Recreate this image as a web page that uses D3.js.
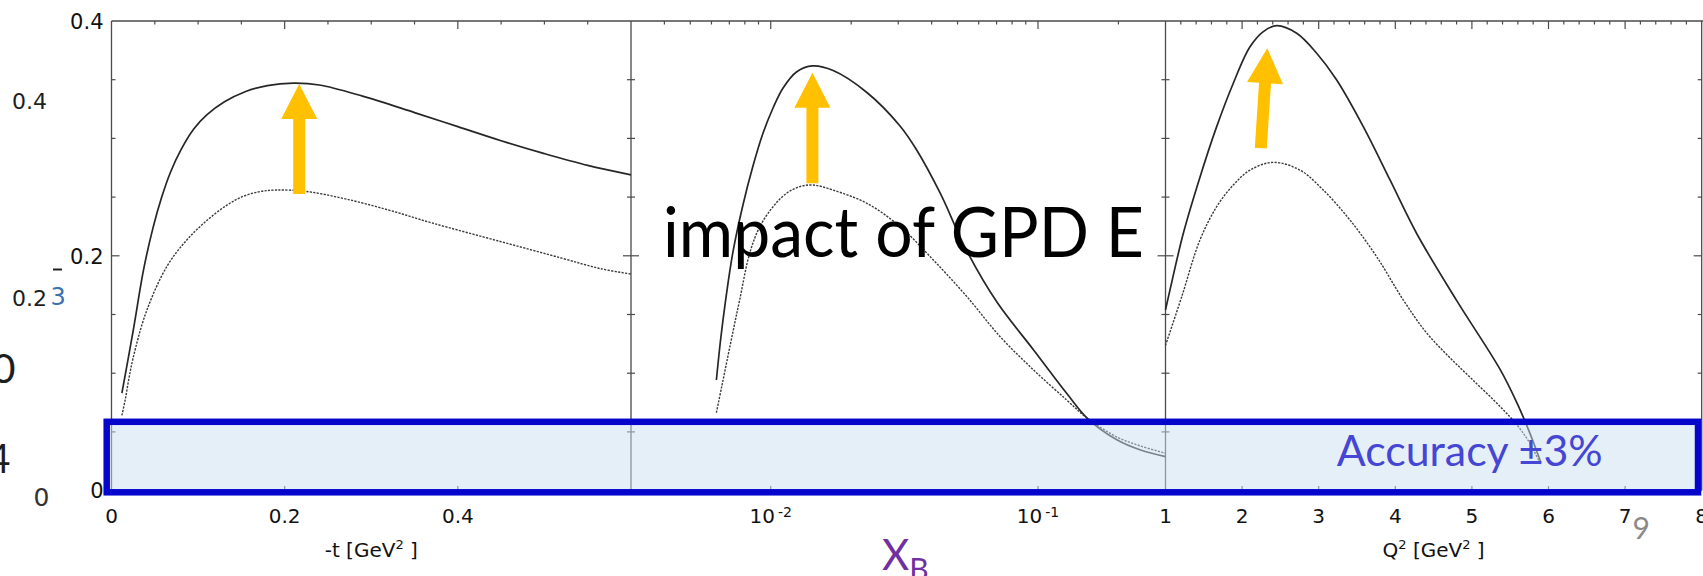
<!DOCTYPE html>
<html>
<head>
<meta charset="utf-8">
<script src="https://cdn.jsdelivr.net/npm/d3@7"></script>
<style>
  html, body { margin: 0; padding: 0; background: #fff; }
  svg { display: block; }
</style>
</head>
<body>
<svg id="chart" width="1703" height="576"></svg>
<script>
// ---------- data ----------
// shared vertical axis
const yTicks = [0, 0.2, 0.4];
const yTickLabels = ["0", "0.2", "0.4"];

// panel 1: dependence on -t
const tTicks = [0, 0.2, 0.4];
const tTickLabels = ["0", "0.2", "0.4"];
const tSolid = [[0.012,0.083],[0.025,0.136],[0.037,0.188],[0.048,0.224],[0.058,0.250],[0.068,0.271],
  [0.08,0.290],[0.095,0.308],[0.11,0.320],[0.13,0.331],[0.155,0.340],[0.18,0.345],[0.21,0.347],
  [0.24,0.3455],[0.29,0.336],[0.35,0.322],[0.40,0.310],[0.45,0.298],[0.50,0.287],[0.55,0.277],[0.60,0.269]];
const tDashed = [[0.012,0.064],[0.016,0.078],[0.02,0.095],[0.025,0.113],[0.04,0.152],[0.064,0.191],
  [0.087,0.2135],[0.11,0.230],[0.133,0.243],[0.15,0.250],[0.17,0.2545],[0.19,0.256],[0.225,0.2548],
  [0.27,0.2485],[0.32,0.239],[0.37,0.228],[0.45,0.212],[0.52,0.198],[0.565,0.189],[0.60,0.1845]];

// panel 2: dependence on x_B
const xbTicks = [0.01, 0.1];
const xbTickExponents = ["-2", "-1"];
const xbSolid = [[0.00626,0.0942],[0.00649,0.1283],[0.00678,0.1623],[0.00722,0.2032],[0.00787,0.2433],
  [0.00858,0.2765],[0.00936,0.3046],[0.0102,0.3259],[0.01112,0.3429],[0.01248,0.3566],[0.01434,0.3617],
  [0.01712,0.3578],[0.0229,0.3391],[0.03046,0.3106],[0.03517,0.2901],[0.04302,0.2535],[0.05418,0.2041],
  [0.07019,0.1606],[0.0963,0.1198],[0.128,0.0829],[0.153,0.0616],[0.198,0.0431],[0.242,0.0346],[0.3,0.0289]];
const xbDashed = [[0.00626,0.0664],[0.00655,0.0882],[0.0069,0.1134],[0.00727,0.1385],[0.00765,0.1623],
  [0.00834,0.2021],[0.0091,0.2248],[0.0102,0.2418],[0.01145,0.2532],[0.01284,0.2589],[0.0144,0.2603],
  [0.0171,0.256],[0.0229,0.2447],[0.0305,0.2248],[0.0406,0.1964],[0.0542,0.1652],[0.0722,0.1311],
  [0.0963,0.1027],[0.128,0.0772],[0.153,0.0616],[0.198,0.0455],[0.242,0.038],[0.3,0.0318]];

// panel 3: dependence on Q^2
const q2Ticks = [1, 2, 3, 4, 5, 6, 7, 8];
const q2Solid = [[1.0,0.154],[1.059,0.171],[1.232,0.219],[1.45,0.267],[1.668,0.310],[1.885,0.347],
  [2.103,0.378],[2.277,0.391],[2.452,0.396],[2.713,0.3895],[2.974,0.3725],[3.235,0.3497],[3.582,0.310],
  [3.931,0.2646],[4.279,0.219],[4.8,0.162],[5.37,0.103],[5.6,0.073],[5.75,0.050],[5.9,0.024]];
const q2Dashed = [[1.0,0.1237],[1.211,0.165],[1.45,0.2135],[1.668,0.2418],[1.885,0.2603],[2.103,0.273],
  [2.407,0.2796],[2.756,0.273],[3.06,0.256],[3.409,0.2304],[3.757,0.1992],[4.105,0.1623],[4.4,0.135],
  [4.7,0.114],[5.0,0.095],[5.37,0.0715],[5.6,0.055],[5.75,0.041],[5.9,0.022]];

// arrows marking the shift between the two curves: [x, yFrom, yTo] (last panel is tilted: [xFrom, yFrom, xTo, yTo])
const tArrow = [0.2168, 0.2526, 0.3463];
const xbArrow = [0.01432, 0.2618, 0.356];
const q2Arrow = [2.244, 0.2917, 2.329, 0.3768];

// accuracy band
const accuracyBand = [0, 0.0586];

// ---------- scales ----------
const svg = d3.select("#chart");
const y = d3.scaleLinear().domain([0, 0.4]).range([490.6, 21]);
const xT = d3.scaleLinear().domain([0, 0.6]).range([111.5, 631]);
const xB = d3.scaleLog().domain([0.003, 0.3]).range([631, 1165.5]);
const xQ = d3.scaleLinear().domain([1, 8]).range([1165.5, 1701.7]);

const frameColor = "#4a4a4a";
const yTop = y(0.4), yBottom = y(0);
const g = svg.append("g");

// ---------- frame ----------
g.append("line").attr("x1", xT(0)).attr("x2", 1703).attr("y1", yTop).attr("y2", yTop)
  .attr("stroke", frameColor).attr("stroke-width", 1.3);
g.append("line").attr("x1", xT(0)).attr("x2", xQ(8)).attr("y1", yBottom).attr("y2", yBottom)
  .attr("stroke", frameColor).attr("stroke-width", 1.3);
[xT(0), xB(0.003), xQ(1), xQ(8)].forEach(xp => {
  g.append("line").attr("x1", xp).attr("x2", xp).attr("y1", yTop).attr("y2", yBottom)
    .attr("stroke", frameColor).attr("stroke-width", 1.3);
});

// vertical ticks on every panel edge (inward on both sides of inner edges)
const yMinor = d3.range(1, 8).map(i => i * 0.05);
function yEdgeTicks(xp, dirs) {
  yMinor.forEach(v => {
    const major = Math.abs(v - 0.2) < 1e-9;
    const len = major ? 8 : 4;
    dirs.forEach(d => {
      g.append("line").attr("x1", xp).attr("x2", xp + d * len)
        .attr("y1", y(v)).attr("y2", y(v)).attr("stroke", frameColor).attr("stroke-width", 1.2);
    });
  });
}
yEdgeTicks(xT(0), [1]);
yEdgeTicks(xB(0.003), [1, -1]);
yEdgeTicks(xQ(1), [1, -1]);
yEdgeTicks(xQ(8), [-1]);

// horizontal ticks: top edge carries majors + minors, bottom edge only majors
function xTicks(scale, values, isMajor) {
  values.forEach(v => {
    const xp = scale(v);
    const major = isMajor(v);
    g.append("line").attr("x1", xp).attr("x2", xp).attr("y1", yTop).attr("y2", yTop + (major ? 8 : 3.5))
      .attr("stroke", frameColor).attr("stroke-width", 1.2);
    if (major) {
      g.append("line").attr("x1", xp).attr("x2", xp).attr("y1", yBottom).attr("y2", yBottom - 4.5)
        .attr("stroke", frameColor).attr("stroke-width", 1.2);
    }
  });
}
xTicks(xT, d3.range(1, 12).map(i => i * 0.05), v => tTicks.some(t => Math.abs(t - v) < 1e-9));
xTicks(xB, xB.ticks().filter(v => v > 0.003 && v < 0.3), v => xbTicks.some(t => Math.abs(t - v) < 1e-9));
xTicks(xQ, d3.range(1, 35).map(i => 1 + i * 0.2), v => Math.abs(v - Math.round(v)) < 1e-9);

// ---------- curves ----------
function drawCurve(scale, data, dashed) {
  const line = d3.line().x(d => scale(d[0])).y(d => y(d[1])).curve(d3.curveCatmullRom.alpha(0.5));
  g.append("path").attr("d", line(data)).attr("fill", "none")
    .attr("stroke", dashed ? "#3a3a3a" : "#262626")
    .attr("stroke-width", dashed ? 1.4 : 1.7)
    .attr("stroke-dasharray", dashed ? "2.2,1.3" : null);
}
drawCurve(xT, tSolid, false);
drawCurve(xT, tDashed, true);
drawCurve(xB, xbSolid, false);
drawCurve(xB, xbDashed, true);
drawCurve(xQ, q2Solid, false);
drawCurve(xQ, q2Dashed, true);

// ---------- arrows ----------
function arrow(x0, y0, x1, y1) {
  const dx = x1 - x0, dy = y1 - y0, L = Math.hypot(dx, dy);
  const ux = dx / L, uy = dy / L, px = -uy, py = ux;
  const hl = 35, hw = 18, sw = 6;
  const bx = x1 - ux * hl, by = y1 - uy * hl;
  const pts = [[x0 + px * sw, y0 + py * sw], [bx + px * sw, by + py * sw], [bx + px * hw, by + py * hw],
    [x1, y1], [bx - px * hw, by - py * hw], [bx - px * sw, by - py * sw], [x0 - px * sw, y0 - py * sw]];
  g.append("polygon").attr("points", pts.map(p => p.join(",")).join(" ")).attr("fill", "#FFC000");
}
arrow(xT(tArrow[0]), y(tArrow[1]), xT(tArrow[0]), y(tArrow[2]));
arrow(xB(xbArrow[0]), y(xbArrow[1]), xB(xbArrow[0]), y(xbArrow[2]));
arrow(xQ(q2Arrow[0]), y(q2Arrow[1]), xQ(q2Arrow[2]), y(q2Arrow[3]));

// ---------- accuracy band ----------
const bandTop = y(accuracyBand[1]), bandBottom = y(accuracyBand[0]) + 1.7;
g.append("rect")
  .attr("x", xT(0) - 4.8).attr("y", bandTop)
  .attr("width", xQ(8) - 3.7 - (xT(0) - 4.8)).attr("height", bandBottom - bandTop)
  .attr("fill", "rgba(203,223,241,0.5)")
  .attr("stroke", "#0505CC").attr("stroke-width", 6.5);

// ---------- tick labels ----------
const tickFont = "'DejaVu Sans', Verdana, sans-serif";
const txt = g.append("g").attr("font-family", tickFont).attr("fill", "#111");

yTicks.forEach((v, i) => {
  txt.append("text").attr("x", 103.5).attr("y", y(v) + 7.8).attr("text-anchor", "end")
    .attr("font-size", 21).text(yTickLabels[i]);
});
tTicks.forEach((v, i) => {
  txt.append("text").attr("x", xT(v)).attr("y", 523).attr("text-anchor", "middle")
    .attr("font-size", 20).text(tTickLabels[i]);
});
xbTicks.forEach((v, i) => {
  const t = txt.append("text").attr("x", xB(v)).attr("y", 523).attr("text-anchor", "middle")
    .attr("font-size", 20);
  t.append("tspan").text("10");
  t.append("tspan").attr("font-size", 14).attr("dy", -6).attr("dx", 3).text(xbTickExponents[i]);
});
q2Ticks.forEach(v => {
  txt.append("text").attr("x", xQ(v)).attr("y", 523).attr("text-anchor", "middle")
    .attr("font-size", 20).text(String(v));
});

// axis titles
const tTitle = txt.append("text").attr("x", xT(0.3)).attr("y", 557).attr("text-anchor", "middle").attr("font-size", 20);
tTitle.append("tspan").text("-t [GeV");
tTitle.append("tspan").attr("font-size", 13).attr("dy", -8).text("2");
tTitle.append("tspan").attr("dy", 8).text(" ]");

const qTitle = txt.append("text").attr("x", 1433.6).attr("y", 557).attr("text-anchor", "middle").attr("font-size", 20);
qTitle.append("tspan").text("Q");
qTitle.append("tspan").attr("font-size", 13).attr("dy", -8).text("2");
qTitle.append("tspan").attr("dy", 8).text("  [GeV");
qTitle.append("tspan").attr("font-size", 13).attr("dy", -8).text("2");
qTitle.append("tspan").attr("dy", 8).text(" ]");

const xbTitle = g.append("text").attr("x", 882).attr("y", 570).attr("font-family", "Lato, sans-serif")
  .attr("fill", "#7030A0").attr("font-size", 42);
xbTitle.append("tspan").text("X");
xbTitle.append("tspan").attr("font-size", 30).attr("dy", 9.5).text("B");

// ---------- annotations ----------
g.append("text").attr("x", 663).attr("y", 256.7).attr("font-family", "Lato, sans-serif")
  .attr("font-size", 70).attr("fill", "#000").attr("textLength", 481).attr("lengthAdjust", "spacingAndGlyphs")
  .text("impact of GPD E");

g.append("text").attr("x", 1336.7).attr("y", 465.5).attr("font-family", "Lato, sans-serif")
  .attr("font-size", 42).attr("fill", "#4646D4").attr("textLength", 266).attr("lengthAdjust", "spacingAndGlyphs")
  .text("Accuracy \u00B13%");

// page number
g.append("text").attr("x", 1632.5).attr("y", 538.7).attr("font-family", "Lato, sans-serif")
  .attr("font-size", 30).attr("fill", "#8a8a8a").text("9");

// labels of the neighbouring scale along the left margin
const side = g.append("g").attr("fill", "#1e1e1e");
side.append("text").attr("x", 12).attr("y", 109).attr("font-family", tickFont).attr("font-size", 22).text("0.4");
side.append("text").attr("x", 12).attr("y", 306).attr("font-family", tickFont).attr("font-size", 22).text("0.2");
side.append("text").attr("x", 50.5).attr("y", 305).attr("font-family", tickFont).attr("font-size", 24)
  .attr("fill", "#3b6fb0").text("3");
side.append("line").attr("x1", 53).attr("x2", 62).attr("y1", 269.5).attr("y2", 269.5)
  .attr("stroke", "#222").attr("stroke-width", 2);
side.append("text").attr("x", 15.5).attr("y", 383).attr("text-anchor", "end")
  .attr("font-family", "Lato, sans-serif").attr("font-size", 41).text("0");
side.append("text").attr("x", 10.5).attr("y", 472.7).attr("text-anchor", "end")
  .attr("font-family", "Lato, sans-serif").attr("font-size", 41).text("4");
side.append("text").attr("x", 33.5).attr("y", 506).attr("font-family", tickFont).attr("font-size", 25)
  .attr("fill", "#333").text("0");
</script>
</body>
</html>
